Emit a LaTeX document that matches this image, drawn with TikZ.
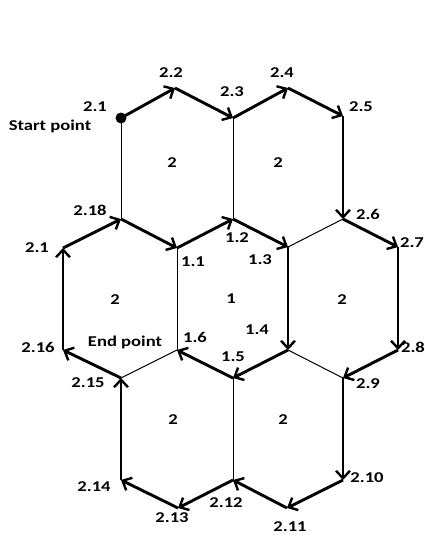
\documentclass[tikz,border=0pt]{standalone}
\usepackage{fontspec}
\newfontfamily\lab{Carlito}[FakeStretch=1.24]
\usetikzlibrary{arrows.meta}
\begin{document}
\begin{tikzpicture}[x=1pt,y=-1pt,
  arr/.style={line width=2.9pt,-{Straight Barb[length=7.5pt,width=14pt,line width=2.4pt]}},
  thin/.style={line width=1pt},
  lbl/.style={font=\lab\bfseries\fontsize{15}{17}\selectfont,inner sep=0pt}]
\useasboundingbox (0,0) rectangle (425,536);
% vertices
\coordinate (v21)  at (121,118);
\coordinate (v22)  at (175,88);
\coordinate (v23)  at (233,118);
\coordinate (v24)  at (288,88);
\coordinate (v25)  at (343,116);
\coordinate (v26)  at (343,219);
\coordinate (v27)  at (398,247);
\coordinate (v28)  at (398,350);
\coordinate (v29)  at (343,378);
\coordinate (v210) at (343,480);
\coordinate (v211) at (287,508);
\coordinate (v212) at (233,480);
\coordinate (v213) at (178,508);
\coordinate (v214) at (121,480);
\coordinate (v215) at (121,378);
\coordinate (v216) at (63,350);
\coordinate (v21b) at (63,248);
\coordinate (v218) at (121,219);
\coordinate (v11)  at (177,248);
\coordinate (v12)  at (233,219);
\coordinate (v13)  at (288,247);
\coordinate (v14)  at (288,350);
\coordinate (v15)  at (233,378);
\coordinate (v16)  at (177,350);
% thin edges
\draw[thin] (v21) -- (v218);
\draw[thin] (v23) -- (v12);
\draw[thin] (v13) -- (v26);
\draw[thin] (v11) -- (v16);
\draw[thin] (v14) -- (v29);
\draw[thin] (v215) -- (v16);
\draw[thin] (v15) -- (v212);
% path
\draw[arr] (v21) -- (v22);
\draw[arr] (v22) -- (v23);
\draw[arr] (v23) -- (v24);
\draw[arr] (v24) -- (v25);
\draw[arr] (v25) -- (v26);
\draw[arr] (v26) -- (v27);
\draw[arr] (v27) -- (v28);
\draw[arr] (v28) -- (v29);
\draw[arr] (v29) -- (v210);
\draw[arr] (v210) -- (v211);
\draw[arr] (v211) -- (v212);
\draw[arr] (v212) -- (v213);
\draw[arr] (v213) -- (v214);
\draw[arr] (v214) -- (v215);
\draw[arr] (v215) -- (v216);
\draw[arr] (v216) -- (v21b);
\draw[arr] (v21b) -- (v218);
\draw[arr] (v218) -- (v11);
\draw[arr] (v11) -- (v12);
\draw[arr] (v12) -- (v13);
\draw[arr] (v13) -- (v14);
\draw[arr] (v14) -- (v15);
\draw[arr] (v15) -- (v16);
\fill (v21) circle (5.5);
% labels
\node[lbl] (l22) at (171,73) {2.2};
\node[lbl] (l21) at (95,107) {2.1};
\node[lbl] (ls) at (50,126) {Start point};
\node[lbl] (h1) at (172,163) {2};
\node[lbl] (l218) at (90,210) {2.18};
\node[lbl] (l23) at (232,92) {2.3};
\node[lbl] (l24) at (282,73) {2.4};
\node[lbl] (l25) at (361,107) {2.5};
\node[lbl] (h2) at (278,163) {2};
\node[lbl] (l26) at (368,214) {2.6};
\node[lbl] (l21b) at (37,248) {2.1};
\node[lbl] (l11) at (193,262) {1.1};
\node[lbl] (h3) at (115,300) {2};
\node[lbl] (l216) at (38,347) {2.16};
\node[lbl] (le) at (125,342) {End point};
\node[lbl] (l16) at (195,337) {1.6};
\node[lbl] (l215) at (88,383) {2.15};
\node[lbl] (l12) at (237,238) {1.2};
\node[lbl] (l13) at (260,260) {1.3};
\node[lbl] (l27) at (412,243) {2.7};
\node[lbl] (h4) at (231,299) {1};
\node[lbl] (h5) at (342,300) {2};
\node[lbl] (l14) at (257,330) {1.4};
\node[lbl] (l28) at (413,347) {2.8};
\node[lbl] (l15) at (233,357) {1.5};
\node[lbl] (l29) at (368,384) {2.9};
\node[lbl] (h6) at (173,420) {2};
\node[lbl] (h7) at (283,420) {2};
\node[lbl] (l214) at (94,487) {2.14};
\node[lbl] (l213) at (172,518) {2.13};
\node[lbl] (l212) at (226,503) {2.12};
\node[lbl] (l211) at (290,527) {2.11};
\node[lbl] (l210) at (367,478) {2.10};
\end{tikzpicture}
\end{document}
